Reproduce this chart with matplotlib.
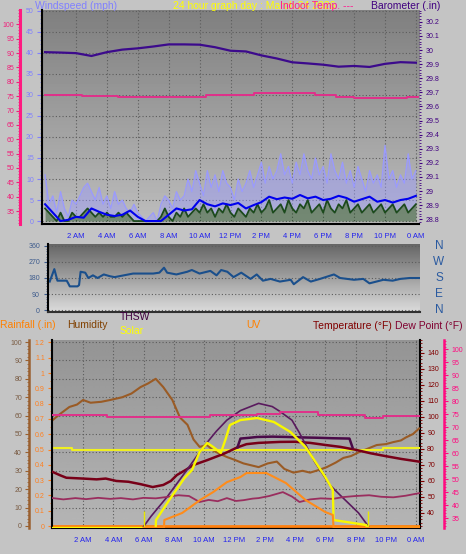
import numpy as np
import matplotlib
matplotlib.use('Agg')
import matplotlib.pyplot as plt
from matplotlib.ticker import MultipleLocator

plt.rcParams['font.family'] = ['Liberation Sans', 'DejaVu Sans']

# ---------------- data ----------------
time_labels = ['2 AM', '4 AM', '6 AM', '8 AM', '10 AM', '12 PM',
               '2 PM', '4 PM', '6 PM', '8 PM', '10 PM', '0 AM']
tick_hours = [2, 4, 6, 8, 10, 12, 14, 16, 18, 20, 22, 24]

# wind, every 15 min (mph)
t_quarter = np.arange(0, 24.01, 0.25)
gust = [11, 4, 6, 2, 7, 3, 1, 5, 4, 6, 8, 9, 7, 5, 8, 4,
        6, 3, 7, 4, 5, 3, 2, 4, 2, 1, 0, 1, 2, 0, 4, 6,
        5, 3, 7, 5, 6, 10, 7, 12, 9, 6, 12, 8, 11, 7, 12, 9,
        8, 5, 10, 7, 9, 12, 8, 11, 14, 9, 13, 10, 12, 16, 11, 13,
        9, 14, 11, 16, 12, 10, 15, 11, 13, 9, 16, 12, 10, 14, 9, 12,
        8, 13, 10, 7, 12, 9, 11, 8, 18, 10, 12, 8, 11, 9, 16, 10,
        12]
speed = [3, 2, 1, 0, 2, 0, 0, 2, 1, 1, 2, 3, 2, 1, 2, 1,
         2, 1, 1, 2, 1, 2, 1, 0, 0, 0, 0, 0, 0, 0, 1, 3,
         1, 0, 2, 1, 3, 1, 2, 3, 2, 4, 2, 3, 1, 3, 2, 4,
         2, 1, 3, 2, 1, 3, 2, 4, 2, 3, 5, 2, 3, 4, 2, 5,
         3, 2, 4, 3, 5, 2, 3, 4, 2, 5, 3, 2, 4, 3, 5, 2,
         3, 4, 2, 3, 4, 2, 3, 4, 2, 3, 4, 2, 3, 4, 2, 3,
         4]
# average wind, every 30 min
t_half = np.arange(0, 24.01, 0.5)
wind_avg = [4, 2, 0, 0.3, 1, 0.8, 3, 2.2, 1.5, 1.2, 1.5, 2.5, 1.0, 0, 0, 0,
            1.5, 3, 2.5, 2.8, 5, 4, 3.5, 4.2, 3.8, 4.3, 3.0, 3.8, 4.5, 5.8, 5.2, 5.6,
            5.3, 6.2, 5.4, 5.8, 5.0, 5.3, 6.0, 5.5, 4.6, 5.2, 5.8, 4.6, 5.0, 4.4, 5.0, 5.3,
            6.0]

# barometer, hourly (in)
t_hour = np.arange(0, 25)
baro = [29.985, 29.982, 29.978, 29.958, 29.985, 30.003, 30.012, 30.025, 30.04,
        30.04, 30.038, 30.02, 29.995, 29.99, 29.962, 29.94, 29.913, 29.905,
        29.896, 29.882, 29.887, 29.88, 29.902, 29.914, 29.91]

# indoor temperature (steps), top panel
in_top_t = [0, 2.4, 4.7, 10.4, 13.5, 17.5, 18.8, 20.0, 23.4, 24.2]
in_top = [75.4, 75.1, 74.8, 75.4, 76.0, 75.4, 74.8, 74.3, 74.8, 74.8]

# wind direction (deg)
dir_t = [0.3, 0.6, 0.8, 1.4, 1.5, 1.6, 2.1, 2.2, 2.3, 2.6, 2.8, 3.1, 3.4, 3.8,
         4.2, 4.5, 5.1, 5.7, 7.0, 7.4, 7.7, 7.9, 8.5, 9.2, 9.5, 10.0, 10.7,
         11.1, 11.4, 11.8, 12.2, 12.7, 13.3, 13.7, 14.1, 14.6, 15.2, 15.9,
         16.1, 16.7, 17.2, 17.8, 18.7, 19.1, 20.0, 20.6, 21.0, 21.9, 22.5,
         23.0, 23.6, 24.3]
dir_deg = [160, 230, 165, 165, 150, 133, 133, 140, 215, 210, 180, 195, 180, 200,
           190, 185, 195, 205, 205, 210, 238, 210, 200, 215, 225, 205, 220,
           195, 225, 215, 185, 210, 175, 200, 165, 175, 160, 170,
           145, 185, 160, 175, 200, 180, 170, 175, 150, 170, 165,
           175, 180, 180]

# bottom panel
hum_t = [0.0, 0.5, 1.1, 1.6, 2.0, 2.5, 3.2, 3.8, 4.6, 5.2, 5.8, 6.3, 6.8, 7.3,
         7.9, 8.4, 8.9, 9.3, 9.7, 10.2, 10.6, 11.1, 11.5, 12.0, 12.6, 13.1,
         13.6, 14.2, 14.8, 15.3, 15.9, 16.5, 17.0, 17.6, 18.1, 18.7, 19.2,
         19.7, 20.2, 20.8, 21.4, 22.0, 22.5, 23.0, 23.3, 23.8, 24.2]
humidity = [57.6, 61, 64.7, 66, 68.5, 67, 67.5, 68.5, 70, 72, 75.5, 77.5, 80, 75.5,
            68.5, 59, 55, 47, 43, 44, 41, 39, 37.5, 36, 34, 33,
            32, 34, 35, 31, 29, 30, 29, 30.5, 32, 34.5, 37,
            38, 40, 42, 44, 44.5, 45.6, 46.5, 48, 50, 53]

temp_t = [0.0, 0.5, 0.9, 2.0, 2.9, 3.5, 4.2, 5.0, 5.8, 6.6, 7.3, 7.8, 8.2, 8.8,
          9.3, 10.2, 11.3, 12.2, 12.8, 13.6, 15.0, 16.0, 17.0, 18.0, 19.0,
          20.0, 21.0, 22.0, 23.0, 24.26]
temperature = [65.6, 63.5, 62, 61.5, 61, 61.5, 60, 59.5, 58, 56.2, 57.5, 60, 63.7, 67,
               70, 73, 77, 81, 83, 83.8, 84.4, 84.5, 83.8, 82.5, 81.3,
               79.5, 77.3, 75.5, 73.8, 72]

hi_t = [12.2, 12.4, 13.0, 13.5, 14.5, 15.5, 16.5, 17.5, 18.5, 19.6, 19.8]
heat_index = [81, 86.5, 87, 87.5, 87.7, 87.5, 87.2, 87, 86.7, 86.5, 81]

dew_t = [0.0, 0.7, 1.5, 2.2, 3.0, 3.8, 4.5, 5.3, 6.0, 6.8, 7.5, 8.3, 9.0, 9.7,
         10.3, 10.9, 11.5, 12.1, 12.6, 13.2, 13.6, 14.3, 15.2, 15.8, 16.3,
         17.0, 17.7, 18.5, 19.2, 20.0, 20.9, 21.7, 22.5, 23.3, 24.2]
dew_point = [42.7, 42.2, 42.7, 42.3, 42.8, 42.4, 42.7, 42.2, 42.8, 42.6, 43.1, 43.8, 43.5, 41.2,
             42.0, 41.5, 42.7, 41.6, 41.9, 42.5, 42.7, 43.5, 45, 43.3, 41.2,
             42.2, 42.6, 42.4, 43.1, 43.5, 43.8, 43.2, 43.0, 43.6, 44.6]

in_bot_t = [0, 3.6, 10.4, 13.5, 15.0, 17.5, 20.6, 21.8, 24.3]
in_bot = [74.6, 74.0, 74.6, 75.0, 75.8, 74.6, 73.6, 74.4, 74.4]

thsw_t = [5.96, 6.5, 7.55, 8.87, 9.93, 10.8, 11.5, 12.4, 13.6, 14.5, 15.0, 15.8,
          16.3, 17.3, 18.3, 19.0, 20.2, 20.9]
thsw = [31, 38, 50, 67, 81, 91, 98, 104, 108.5, 106.5, 103.5, 98,
        90, 72, 57.5, 51, 40, 31]

sol_t = [0, 6.80, 6.82, 7.7, 8.7, 9.2, 9.7, 10.2, 10.6, 11.1, 11.4, 11.7, 12.4,
         13.5, 14.6, 15.7, 16.7, 17.4, 18.0, 18.5, 18.55, 20.7, 20.8, 24.26]
solar = [0, 0, 51, 179, 319, 370, 485, 543, 517, 479, 562, 657, 689,
         702, 677, 613, 517, 415, 326, 243, 51, 19, 0, 0]
sun_marks = [6.0, 20.85]

uv_t = [6.0, 7.35, 7.37, 8.55, 9.73, 10.6, 11.5, 12.4, 12.8, 14.1, 15.4, 16.7,
        18.0, 18.5, 18.55, 24.26]
uv = [0, 0, 0.68, 1.28, 2.38, 3.06, 3.9, 4.34, 4.68, 4.68, 3.83, 2.38,
      1.36, 1.11, 0, 0]

rain_t = [0, 24.26]
rain = [0, 0]
flat_t = [0, 1.3, 21.8, 24.3]
flat_yellow = [0.512, 0.497, 0.512, 0.512]

# ---------------- layout helpers ----------------
W, H = 466.0, 554.0
PX = 0.72  # points per pixel at 100 dpi


def box(x0, y0, x1, y1):
    return [x0 / W, 1 - y1 / H, (x1 - x0) / W, (y1 - y0) / H]


def shade(ax, top, bottom):
    g = np.linspace(top, bottom, 64).reshape(-1, 1)
    ax.imshow(g, cmap='gray', vmin=0, vmax=1, extent=(0, 1, 0, 1),
              transform=ax.transAxes, aspect='auto', zorder=0,
              interpolation='bilinear')


def bare(ax):
    for s in ax.spines.values():
        s.set_visible(False)


def ftext(x, y, s, color, size=7.5, ha='left'):
    fig.text(x / W, 1 - y / H, s, color=color, fontsize=size, ha=ha, va='center')


fig = plt.figure(figsize=(4.66, 5.54), dpi=100)
fig.patch.set_facecolor('#c4c4c4')

grid_kw = dict(color='#5c5c5c', linestyle=(0, (1, 2)), linewidth=0.8)

# ---------------- top panel: wind / temp / barometer ----------------
ax1 = fig.add_axes(box(42, 10, 419, 224))
shade(ax1, 0.50, 0.74)
ax1.set_axisbelow(True)
ax1.fill_between(t_quarter, speed, gust, color='#9a9aff', alpha=0.45, lw=0, zorder=2)
ax1.plot(t_quarter, gust, color='#9a9aff', lw=0.9, zorder=2)
ax1.fill_between(t_quarter, 0, speed, color='#1c4a1c', alpha=0.45, lw=0, zorder=3)
ax1.plot(t_quarter, speed, color='#1c4a1c', lw=1.3, zorder=3)
ax1.plot(t_half, wind_avg, color='#0000ee', lw=1.5, zorder=4)
ax1.set_xlim(-0.2, 24.2)
ax1.set_ylim(-0.7, 50.2)
ax1.set_xticks(tick_hours)
ax1.set_xticklabels(time_labels)
ax1.tick_params(axis='x', length=0, pad=6.5, labelsize=5.5, labelcolor='#2222ee')
ax1.yaxis.set_major_locator(MultipleLocator(5))
ax1.yaxis.set_minor_locator(MultipleLocator(1))
ax1.tick_params(axis='y', which='both', colors='#8080ff', labelsize=5, pad=2.2)
ax1.tick_params(axis='y', which='major', length=3.6, width=0.8)
ax1.tick_params(axis='y', which='minor', length=1.6, width=0.6)
ax1.grid(True, axis='both', **grid_kw)
for s in ['top', 'right']:
    ax1.spines[s].set_visible(False)
for s in ['left', 'bottom']:
    ax1.spines[s].set_linewidth(1.5)
    ax1.spines[s].set_color('black')

ax1t = ax1.twinx()
bare(ax1t)
ax1t.yaxis.tick_left()
ax1t.spines['left'].set_visible(True)
ax1t.spines['left'].set_position(('outward', 22 * PX))
ax1t.spines['left'].set_color('#ff1a80')
ax1t.spines['left'].set_linewidth(2.2)
ax1t.set_ylim(30.5, 105)
ax1t.set_yticks(range(35, 101, 5))
ax1t.yaxis.set_minor_locator(MultipleLocator(1))
ax1t.tick_params(axis='y', which='both', colors='#f0207a', labelsize=5, pad=1.2)
ax1t.tick_params(axis='y', which='major', length=3, width=0.8)
ax1t.tick_params(axis='y', which='minor', length=1.5, width=0.6)
ax1t.plot(in_top_t, in_top, color='#e0308a', lw=1.4, drawstyle='steps-post')

ax1b = ax1.twinx()
bare(ax1b)
ax1b.set_ylim(28.766, 30.284)
baro_ticks = [28.8, 28.9, 29.0, 29.1, 29.2, 29.3, 29.4, 29.5, 29.6, 29.7,
              29.8, 29.9, 30.0, 30.1, 30.2]
ax1b.set_yticks(baro_ticks)
ax1b.set_yticklabels([f'{v:g}' for v in baro_ticks])
ax1b.yaxis.set_minor_locator(MultipleLocator(0.02))
ax1b.tick_params(axis='y', which='both', colors='#400080', labelsize=5, pad=2)
ax1b.tick_params(axis='y', which='major', length=2.5, width=0.8)
ax1b.tick_params(axis='y', which='minor', length=1.4, width=0.6)
ax1b.plot(t_hour, baro, color='#3c0a8c', lw=1.6)

ftext(35, 6, 'Windspeed (mph)', '#8080ff')
ftext(173, 6, '24 hour graph day : March 24 2026', '#ffff00')
ftext(280, 6, 'Indoor Temp. ---', '#ff1a90')
ftext(371, 6, 'Barometer (.in)', '#400080')

# ---------------- middle panel: wind direction ----------------
ax2 = fig.add_axes(box(48, 244, 420, 312))
shade(ax2, 0.40, 0.86)
ax2.set_axisbelow(True)
ax2.plot(dir_t, dir_deg, color='#1a4f8c', lw=1.5)
ax2.set_xlim(0.19, 24.27)
ax2.set_ylim(-11, 371)
ax2.set_xticks([])
ax2.set_yticks([0, 90, 180, 270, 360])
ax2.yaxis.set_minor_locator(MultipleLocator(15))
ax2.tick_params(axis='y', which='both', colors='#3c5a8c', labelsize=5, pad=3)
ax2.tick_params(axis='y', which='major', length=2.8, width=0.8)
ax2.tick_params(axis='y', which='minor', length=1.5, width=0.6)
ax2.grid(True, axis='y', **grid_kw)
for s in ['top', 'right']:
    ax2.spines[s].set_visible(False)
ax2.spines['left'].set_linewidth(1.5)
ax2.spines['left'].set_color('black')
ax2.spines['bottom'].set_linewidth(1.5)
ax2.spines['bottom'].set_color('#303030')
for lab, deg in zip(['N', 'W', 'S', 'E', 'N'], [360, 270, 180, 90, 0]):
    ax2.text(1.051, deg, lab, transform=ax2.get_yaxis_transform(),
             color='#2a5aa0', fontsize=8.5, ha='center', va='center')

# ---------------- bottom panel ----------------
ax3 = fig.add_axes(box(52, 340, 420, 528))
shade(ax3, 0.58, 0.71)
ax3.set_axisbelow(True)
ax3.set_xlim(-0.05, 24.26)
ax3.set_ylim(-1.1, 101.1)
ax3.set_xticks(tick_hours)
ax3.set_xticklabels(time_labels)
ax3.tick_params(axis='x', length=0, pad=6.5, labelsize=5.5, labelcolor='#2222ee')
ax3.yaxis.set_major_locator(MultipleLocator(10))
ax3.yaxis.set_minor_locator(MultipleLocator(2))
ax3.tick_params(axis='y', which='both', color='#9a6030', labelcolor='#7a5c44',
                labelsize=5, pad=2)
ax3.tick_params(axis='y', which='major', length=3, width=0.8)
ax3.tick_params(axis='y', which='minor', length=1.5, width=0.6)
ax3.grid(True, axis='both', **grid_kw)
ax3.spines['top'].set_visible(False)
ax3.spines['left'].set_position(('outward', 23 * PX))
ax3.spines['left'].set_color('#9a6030')
ax3.spines['left'].set_linewidth(1.8)
for s in ['bottom', 'right']:
    ax3.spines[s].set_linewidth(1.5)
    ax3.spines[s].set_color('black')
ax3.plot(hum_t, humidity, color='#9a5b25', lw=1.5, zorder=3)

ax3r = ax3.twinx()
bare(ax3r)
ax3r.yaxis.tick_left()
ax3r.spines['left'].set_visible(True)
ax3r.spines['left'].set_color('black')
ax3r.spines['left'].set_linewidth(1.5)
ax3r.set_ylim(-0.013, 1.216)
rain_ticks = [0, 0.1, 0.2, 0.3, 0.4, 0.5, 0.6, 0.7, 0.8, 0.9, 1.0, 1.1, 1.2]
ax3r.set_yticks(rain_ticks)
ax3r.set_yticklabels([f'{v:g}' for v in rain_ticks])
ax3r.yaxis.set_minor_locator(MultipleLocator(0.05))
ax3r.tick_params(axis='y', which='both', colors='#ff8020', labelsize=5, pad=2.2)
ax3r.tick_params(axis='y', which='major', length=3, width=0.8)
ax3r.tick_params(axis='y', which='minor', length=1.5, width=0.6)
ax3r.plot(rain_t, rain, color='#ff8010', lw=2)
ax3r.plot(flat_t, flat_yellow, color='#f0f020', lw=1.5, drawstyle='steps-post')

ax3t = ax3.twinx()
bare(ax3t)
ax3t.set_ylim(30.6, 148.1)
ax3t.set_yticks(range(40, 141, 10))
ax3t.yaxis.set_minor_locator(MultipleLocator(2))
ax3t.tick_params(axis='y', which='both', colors='#800000', labelsize=5, pad=2.2)
ax3t.tick_params(axis='y', which='major', length=3, width=0.8)
ax3t.tick_params(axis='y', which='minor', length=1.5, width=0.6)
ax3t.plot(temp_t, temperature, color='#780018', lw=1.8)
ax3t.plot(hi_t, heat_index, color='#4a0a48', lw=1.8)
ax3t.plot(thsw_t, thsw, color='#5a1a5e', lw=1.2)

ax3d = ax3.twinx()
bare(ax3d)
ax3d.spines['right'].set_visible(True)
ax3d.spines['right'].set_position(('outward', 24 * PX))
ax3d.spines['right'].set_color('#ff0a80')
ax3d.spines['right'].set_linewidth(1.8)
ax3d.set_ylim(31.2, 103.5)
ax3d.set_yticks(range(35, 101, 5))
ax3d.yaxis.set_minor_locator(MultipleLocator(1))
ax3d.tick_params(axis='y', which='both', colors='#ff0a80', labelsize=5, pad=2.5)
ax3d.tick_params(axis='y', which='major', length=3, width=0.8)
ax3d.tick_params(axis='y', which='minor', length=1.5, width=0.6)
ax3d.plot(dew_t, dew_point, color='#9a2d5e', lw=1.3)
ax3d.plot(in_bot_t, in_bot, color='#e0308a', lw=1.4, drawstyle='steps-post')

ax3s = ax3.twinx()
ax3s.set_axis_off()
ax3s.set_ylim(0, 1200)
ax3s.plot(sol_t, solar, color='#f8f800', lw=1.7)
ax3s.vlines(sun_marks, 0, 108, color='#e8e800', lw=1)

ax3u = ax3.twinx()
ax3u.set_axis_off()
ax3u.set_ylim(0, 16)
ax3u.plot(uv_t, uv, color='#ff8c1a', lw=1.5)

ftext(0, 325.5, 'Rainfall (.in)', '#ff8000')
ftext(67, 325.5, 'Humidity', '#804000')
ftext(120, 317, 'THSW', '#400040')
ftext(120, 331, 'Solar', '#ffff00')
ftext(246, 325.5, 'UV', '#ff8000')
ftext(313, 326, 'Temperature (\u00b0F)', '#800000')
ftext(395, 326, 'Dew Point (\u00b0F)', '#800030')

fig.savefig('out.png', dpi=100, facecolor=fig.get_facecolor())
